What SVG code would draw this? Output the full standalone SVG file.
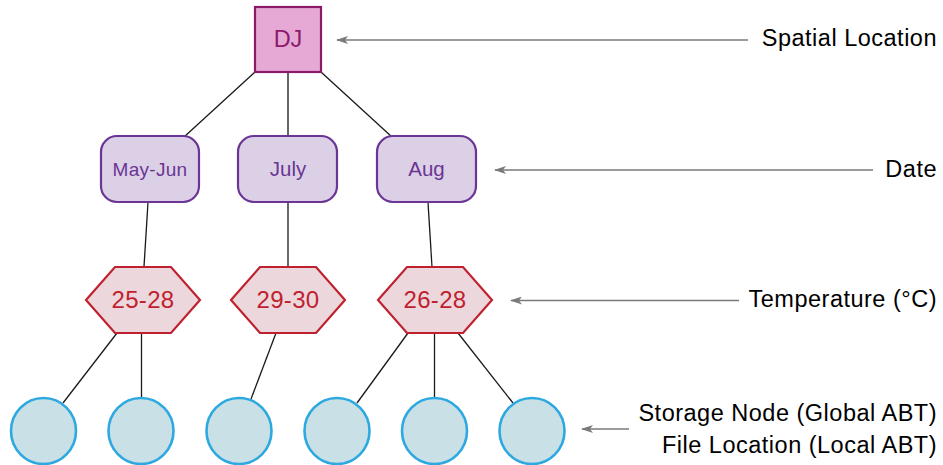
<svg xmlns="http://www.w3.org/2000/svg" width="943" height="465" viewBox="0 0 943 465">
<style>
text{font-family:"Liberation Sans",Arial,Helvetica,sans-serif}
.edge{stroke:#1a1a1a;stroke-width:1.3;fill:none}
.edge2{stroke:#666;stroke-width:2;fill:none}
.ptr{stroke:#7a7a7a;stroke-width:1.6;fill:none;marker-end:url(#ah)}
.loc{fill:#e6a8d4;stroke:#8b1a6b;stroke-width:2.2}
.loct{fill:#8b1a6b;font-size:23.5px;text-anchor:middle}
.date{fill:#dcd0e6;stroke:#6a3594;stroke-width:2.2}
.datet{fill:#6a3594;text-anchor:middle}
.hex{fill:#ecd8dc;stroke:#c0212f;stroke-width:2.2}
.hext{fill:#c0212f;font-size:24px;letter-spacing:0.3px;text-anchor:middle}
.stor{fill:#c9e0e7;stroke:#2ea9e0;stroke-width:2.6}
.lbl{fill:#000;font-size:23.5px;letter-spacing:0.5px;text-anchor:end}
</style>
<defs>
<marker id="ah" viewBox="0 0 12 8" refX="11" refY="4" markerWidth="12" markerHeight="8" markerUnits="userSpaceOnUse" orient="auto">
<path d="M0,0 L12,4 L0,8 L3,4 Z" fill="#7a7a7a"/>
</marker>
</defs>
<g id="connectors">
<line class="edge" x1="255" y1="72" x2="184" y2="137"/>
<line class="edge2" x1="288" y1="72" x2="288" y2="137"/>
<line class="edge" x1="321" y1="72" x2="392" y2="137"/>
<line class="edge" x1="148" y1="202" x2="144" y2="267"/>
<line class="edge" x1="288" y1="202" x2="288" y2="267"/>
<line class="edge" x1="428" y1="202" x2="432" y2="267"/>
<line class="edge" x1="117" y1="333" x2="63" y2="403"/>
<line class="edge" x1="141.5" y1="333" x2="141.5" y2="398"/>
<line class="edge" x1="276" y1="333" x2="251" y2="399"/>
<line class="edge" x1="408" y1="333" x2="357" y2="403"/>
<line class="edge" x1="434.5" y1="333" x2="434.5" y2="398"/>
<line class="edge" x1="458" y1="333" x2="513" y2="403"/>
<line class="ptr" x1="748" y1="40" x2="337" y2="40"/>
<line class="ptr" x1="873" y1="170" x2="495" y2="170"/>
<line class="ptr" x1="739" y1="300.5" x2="511" y2="300.5"/>
<line class="ptr" x1="629" y1="429" x2="582" y2="429"/>
</g>
<g id="dj">
<rect class="loc" x="255" y="7" width="66" height="65"/>
<text class="loct" x="288" y="47">DJ</text>
</g>
<g id="mayjun">
<rect class="date" x="101" y="136" width="98" height="66" rx="16"/>
<text class="datet" x="150" y="176" font-size="19" letter-spacing="0.3">May-Jun</text>
</g>
<g id="july">
<rect class="date" x="238" y="136" width="99" height="66" rx="16"/>
<text class="datet" x="288" y="176" font-size="20.5">July</text>
</g>
<g id="aug">
<rect class="date" x="377" y="136" width="99" height="66" rx="16"/>
<text class="datet" x="426.5" y="176" font-size="20.5">Aug</text>
</g>
<g id="t2528">
<polygon class="hex" points="86,300 115,267 171,267 200,300 171,333 115,333"/>
<text class="hext" x="143" y="308">25-28</text>
</g>
<g id="t2930">
<polygon class="hex" points="231,300 260,267 316,267 345,300 316,333 260,333"/>
<text class="hext" x="288" y="308">29-30</text>
</g>
<g id="t2628">
<polygon class="hex" points="378,300 407,267 463,267 492,300 463,333 407,333"/>
<text class="hext" x="435" y="308">26-28</text>
</g>
<g id="s1"><ellipse class="stor" cx="43.5" cy="431" rx="32.5" ry="33"/></g>
<g id="s2"><ellipse class="stor" cx="141" cy="431" rx="32.5" ry="33"/></g>
<g id="s3"><ellipse class="stor" cx="239" cy="431" rx="32.5" ry="33"/></g>
<g id="s4"><ellipse class="stor" cx="337" cy="431" rx="32.5" ry="33"/></g>
<g id="s5"><ellipse class="stor" cx="434.5" cy="431" rx="32.5" ry="33"/></g>
<g id="s6"><ellipse class="stor" cx="532" cy="431" rx="32.5" ry="33"/></g>
<g id="labels">
<text class="lbl" x="937" y="46">Spatial Location</text>
<text class="lbl" x="937" y="177">Date</text>
<text class="lbl" x="937" y="307">Temperature (°C)</text>
<text class="lbl" x="937" y="421">Storage Node (Global ABT)</text>
<text class="lbl" x="937" y="453">File Location (Local ABT)</text>
</g>
</svg>
